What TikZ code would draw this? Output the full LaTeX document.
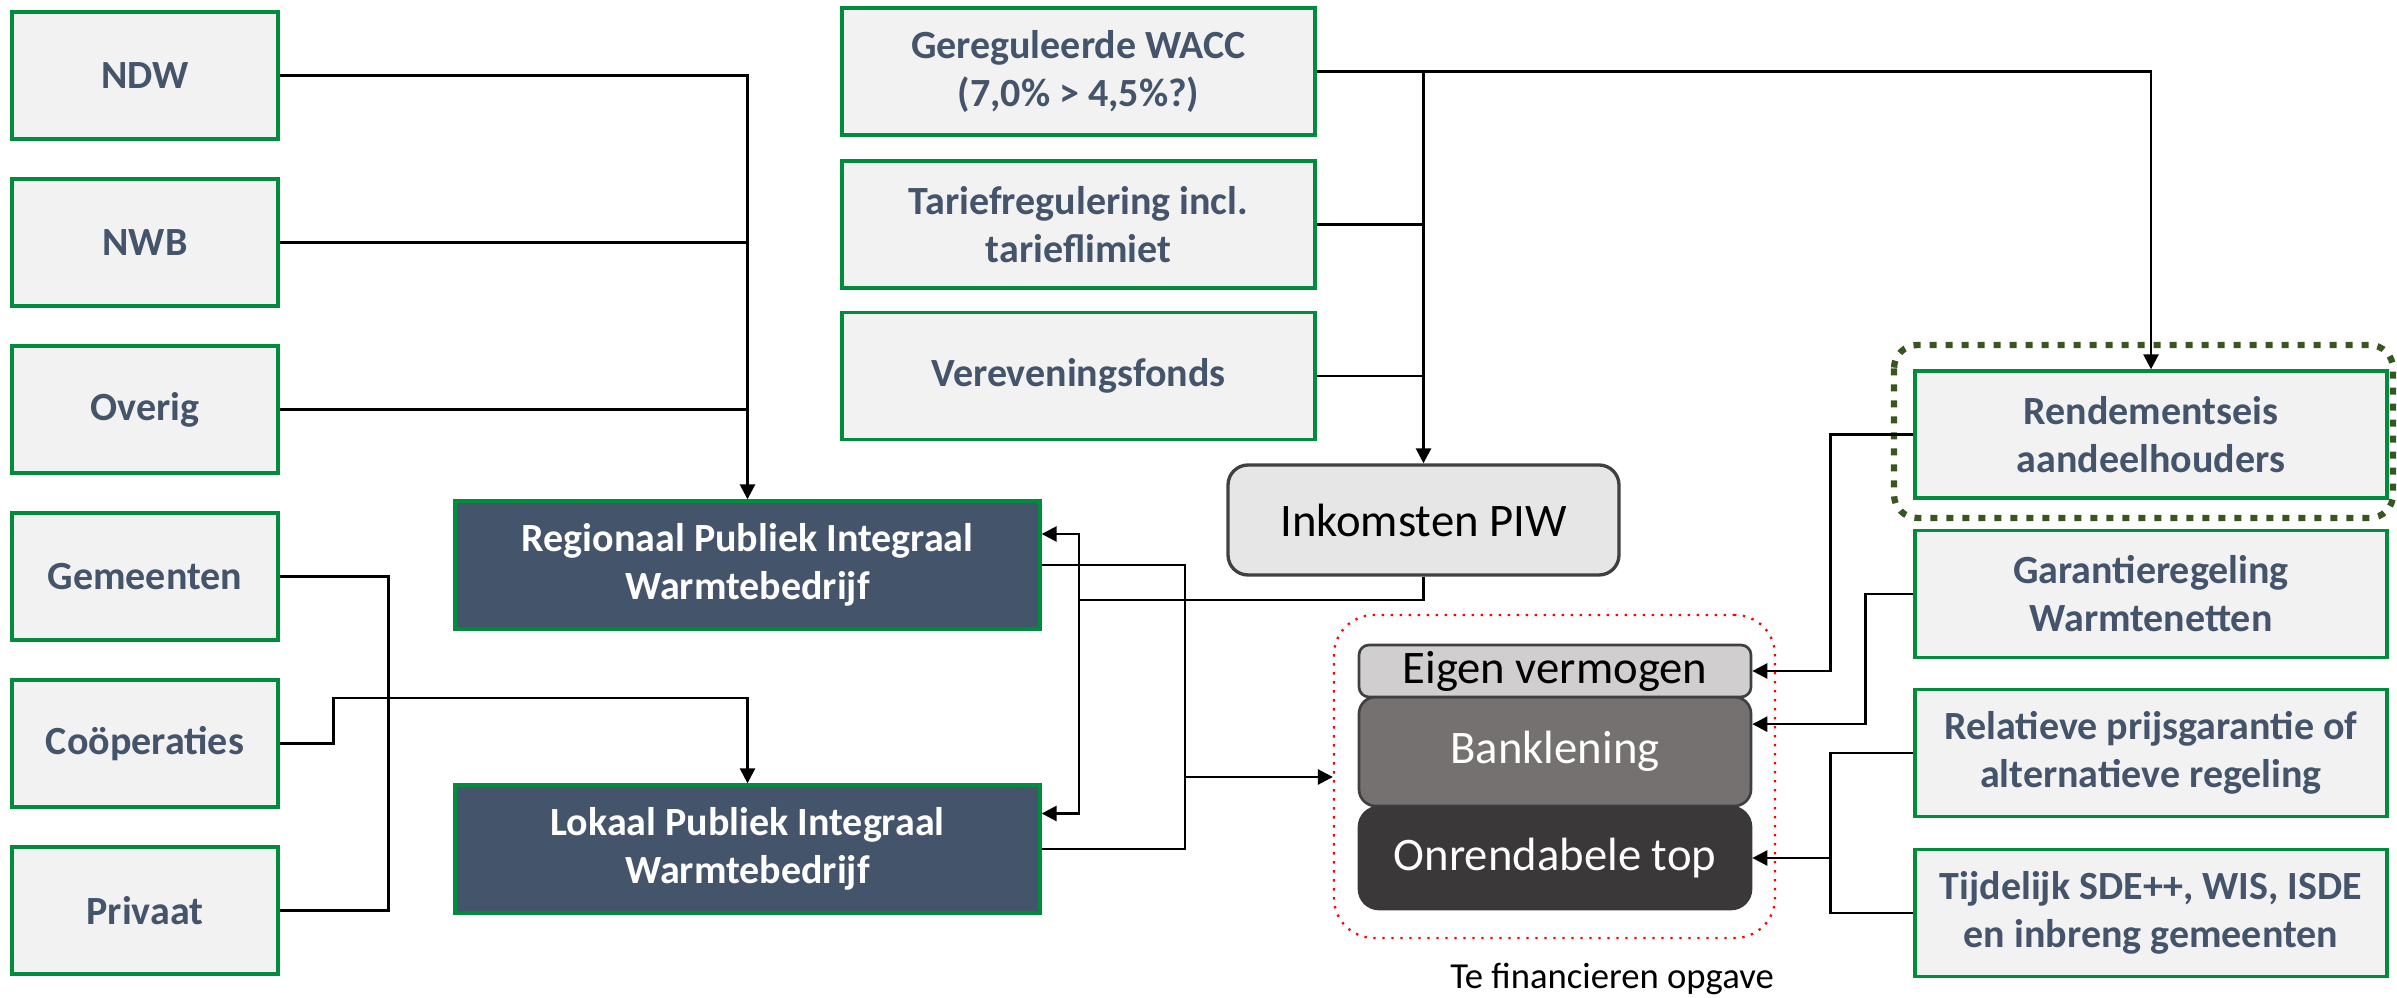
\documentclass[tikz,border=0pt]{standalone}
\usepackage{fontspec}
\setmainfont{Carlito}
\usetikzlibrary{arrows.meta}

\definecolor{slate}{HTML}{44546A}
\definecolor{boxgreen}{RGB}{0,140,60}
\definecolor{boxfill}{HTML}{F2F2F2}
\definecolor{piwgrey}{HTML}{E6E6E6}
\definecolor{edgegrey}{HTML}{404040}
\definecolor{eigengrey}{HTML}{D0CECE}
\definecolor{bankgrey}{HTML}{767171}
\definecolor{topgrey}{HTML}{3A3838}
\definecolor{dotgreen}{HTML}{375623}

\tikzset{every picture/.style={line width=0.75pt}}

\begin{document}
\begin{tikzpicture}[x=0.3pt,y=0.3pt,yscale=-1,xscale=1,
  greenbox/.style={draw=boxgreen,line width=1pt,fill=boxfill,text=slate,align=center,inner sep=0pt,
    font=\fontsize{12}{14.4}\selectfont\bfseries,minimum height=38.1pt},
  piwbox/.style={greenbox,fill=slate,text=white,minimum width=175.5pt,minimum height=38.4pt},
  finbox/.style={draw=edgegrey,line width=0.8pt,rounded corners=3pt,inner sep=0pt,
    font=\fontsize{14}{16}\selectfont,minimum width=117.6pt},
  conn/.style={draw=black,line width=0.8pt},
  arr/.style={conn,-{Triangle[length=4.5pt,width=4.5pt]}}]
\useasboundingbox (0,0) rectangle (2397,998);

%Shape: Rectangle (left column)
\node[greenbox,minimum width=79.8pt] (ndw) at (145,75.5) {NDW};
\node[greenbox,minimum width=79.8pt] (nwb) at (145,242.5) {NWB};
\node[greenbox,minimum width=79.8pt] (overig) at (145,409.5) {Overig};
\node[greenbox,minimum width=79.8pt] (gemeenten) at (145,576.5) {Gemeenten};
\node[greenbox,minimum width=79.8pt] (cooperaties) at (145,743.5) {Coöperaties};
\node[greenbox,minimum width=79.8pt] (privaat) at (145,910.5) {Privaat};

%Shape: Rectangle (middle column)
\node[greenbox,minimum width=141.9pt] (wacc) at (1078.5,71.5) {Gereguleerde WACC\\(7,0\% > 4,5\%?)};
\node[greenbox,minimum width=141.9pt] (tarief) at (1078.5,224.5) {Tariefregulering incl.\\tarieflimiet};
\node[greenbox,minimum width=141.9pt] (verev) at (1078.5,376) {Vereveningsfonds};

%Shape: Rectangle (warmtebedrijven)
\node[piwbox] (regionaal) at (747.5,565) {Regionaal Publiek Integraal\\Warmtebedrijf};
\node[piwbox] (lokaal) at (747.5,849) {Lokaal Publiek Integraal\\Warmtebedrijf};

%Rounded Rect
\node[draw=edgegrey,line width=1pt,fill=piwgrey,rounded corners=6pt,inner sep=0pt,
  minimum width=117.3pt,minimum height=33pt,font=\fontsize{14}{16}\selectfont] (inkomsten) at (1423.5,520) {Inkomsten PIW};

%Shape: Rectangle (right column)
\node[greenbox,minimum width=141.6pt] (rendement) at (2151,434.5) {Rendementseis\\aandeelhouders};
\node[greenbox,minimum width=141.6pt] (garantie) at (2151,594) {Garantieregeling\\Warmtenetten};
\node[greenbox,minimum width=141.6pt] (relatief) at (2151,753) {Relatieve prijsgarantie of\\alternatieve regeling};
\node[greenbox,minimum width=141.6pt] (tijdelijk) at (2151,913) {Tijdelijk SDE++, WIS, ISDE\\en inbreng gemeenten};
\draw[dotgreen,line width=1.9pt,dash pattern=on 2.1pt off 2.7pt,rounded corners=7pt] (1894,345) rectangle (2393,518);

%Financing stack
\node[draw=red,dotted,line width=0.7pt,rounded corners=12pt,minimum width=132.3pt,minimum height=96.9pt] (opgave) at (1554.5,776.5) {};
\node[finbox,fill=bankgrey,text=white,minimum height=32.7pt,rounded corners=5pt] (bank) at (1555,751.5) {Banklening};
\node[finbox,fill=eigengrey,minimum height=15.6pt] (eigen) at (1555,671) {Eigen vermogen};
\node[finbox,fill=topgrey,draw=topgrey,text=white,minimum height=30.6pt,rounded corners=6pt] (onrendabel) at (1555,858) {Onrendabele top};
% Text Node
\node[font=\fontsize{11}{13}\selectfont,inner sep=0pt] (opgavetxt) at (1612,979) {Te financieren opgave};

%Straight Lines (left inputs)
\draw[arr] (ndw.east) -| (regionaal.north);
\draw[conn] (nwb.east) -- (nwb.east -| regionaal.north);
\draw[conn] (overig.east) -- (overig.east -| regionaal.north);
\draw[conn] (gemeenten.east) -- ++(109,0) |- (privaat.east);
\draw[arr] (cooperaties.east) -- ++(54,0) -- ++(0,-45.5) -| (lokaal.north);

%Straight Lines (regulation)
\draw[arr] (wacc.east) -| (rendement.north);
\draw[arr] (wacc.east -| inkomsten.north) -- (inkomsten.north);
\draw[conn] (tarief.east) -- (tarief.east -| inkomsten.north);
\draw[conn] (verev.east) -- (verev.east -| inkomsten.north);

%Straight Lines (inkomsten back to warmtebedrijven)
\coordinate (jl) at (1079,600);
\coordinate (jr1) at (1079,534);
\coordinate (jr2) at (1079,813.5);
\draw[conn] (inkomsten.south) |- (jl);
\draw[arr] (jl) -- (jr1) -- (jr1 -| regionaal.east);
\draw[arr] (jl) -- (jr2) -- (jr2 -| lokaal.east);

%Straight Lines (warmtebedrijven to opgave)
\coordinate (jo) at (1185,777);
\draw[conn] (regionaal.east) -- (regionaal.east -| jo) |- (lokaal.east);
\draw[arr] (jo) -- (jo -| opgave.west);

%Straight Lines (financing sources)
\draw[arr] (rendement.west) -- ++(-83,0) |- (eigen.east);
\draw[arr] (garantie.west) -- ++(-48,0) |- ([yshift=-8.2pt]bank.east);
\draw[conn] (relatief.west) -- ++(-83,0) |- (tijdelijk.west);
\coordinate (ro) at (1832,858);
\draw[arr] (ro) -- (onrendabel.east);
\end{tikzpicture}
\end{document}
